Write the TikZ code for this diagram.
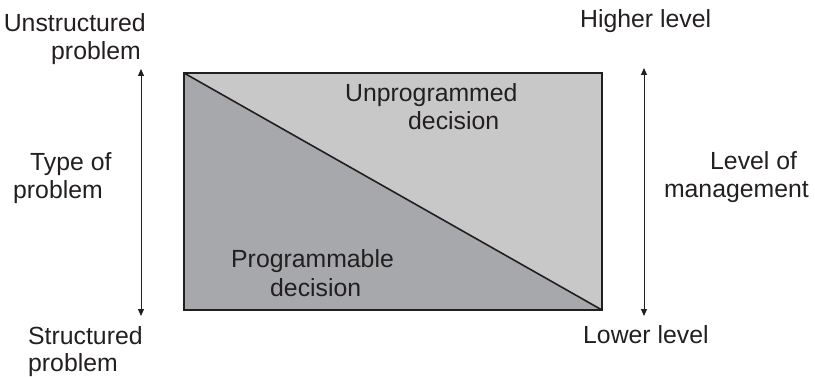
\documentclass[tikz,border=0pt]{standalone}
\usepackage{fontspec}
\setmainfont{Liberation Sans}
\usetikzlibrary{arrows.meta}
\definecolor{inkline}{HTML}{231F20}
\definecolor{upperfill}{HTML}{C8C8C9}
\definecolor{lowerfill}{HTML}{A7A8AB}
\begin{document}
\begin{tikzpicture}[x=1pt,y=-1pt,
  lbl/.style={inner sep=0pt,text=inkline,font=\fontsize{24.8}{29}\selectfont},
  axis/.style={line width=0.9pt,draw=inkline,
    {Triangle[width=6pt,length=7pt]}-{Triangle[width=6pt,length=7pt]}},
  frame/.style={draw=inkline,line width=1.8pt},
  split/.style={draw=inkline,line width=1.6pt}]
\useasboundingbox (0,0) rectangle (815,377);

% decision box corners
\coordinate (tl) at (184,73);
\coordinate (tr) at (602,73);
\coordinate (br) at (602,310);
\coordinate (bl) at (184,310);

% the two triangular regions
\fill[upperfill] (tl) -- (tr) -- (br) -- cycle;
\fill[lowerfill] (tl) -- (bl) -- (br) -- cycle;
\draw[split] (tl) -- (br);
\draw[frame] (tl) rectangle (br);

% vertical scales
\coordinate (ltop) at (141,69);
\coordinate (lbot) at (141,316);
\coordinate (rtop) at (644,68);
\coordinate (rbot) at (644,316);
\draw[axis] (ltop) -- (lbot);
\draw[axis] (rtop) -- (rbot);

% left side labels
\node[lbl,anchor=base east] (unstr1) at (146,32) {Unstructured};
\node[lbl,anchor=base east] (unstr2) at (141,60) {problem};
\node[lbl,anchor=base west] (type1) at (30,171) {Type of};
\node[lbl,anchor=base west] (type2) at (13,199) {problem};
\node[lbl,anchor=base west] (str1) at (28,344) {Structured};
\node[lbl,anchor=base west] (str2) at (28,371) {problem};

% right side labels
\node[lbl,anchor=base west] (high) at (580,28) {Higher level};
\node[lbl,anchor=base west] (lev1) at (710,170) {Level of};
\node[lbl,anchor=base east] (lev2) at (809,198) {management};
\node[lbl,anchor=base west] (low) at (583,343) {Lower level};

% region labels
\node[lbl,anchor=base west] (unp1) at (345,102) {Unprogrammed};
\node[lbl,anchor=base west] (unp2) at (408,130) {decision};
\node[lbl,anchor=base west] (prog1) at (231,268) {Programmable};
\node[lbl,anchor=base west] (prog2) at (270,297) {decision};
\end{tikzpicture}
\end{document}
